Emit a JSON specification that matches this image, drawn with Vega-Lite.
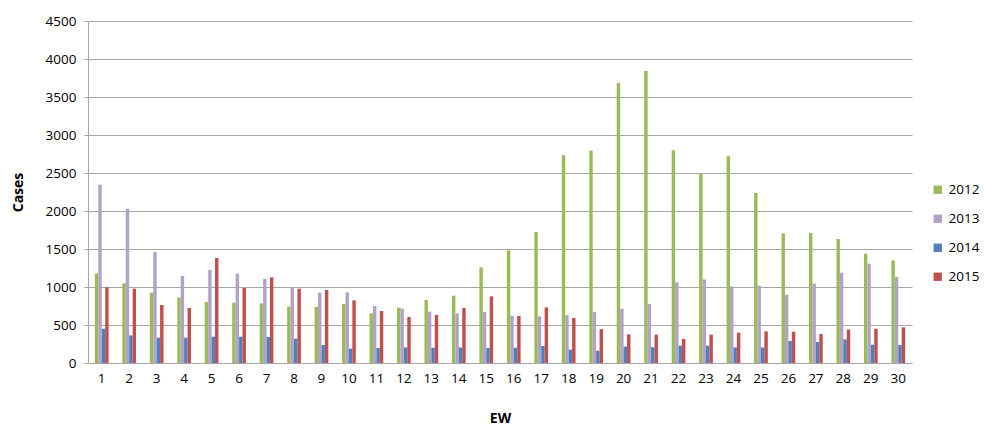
{
  "$schema": "https://vega.github.io/schema/vega-lite/v6.json",
  "width": 824,
  "height": 342,
  "autosize": "none",
  "padding": {"left": 88, "top": 21, "right": 73, "bottom": 65},
  "background": "white",
  "config": {
    "view": {"stroke": null},
    "font": "Open Sans"
  },
  "data": {
    "values": [
      {"ew": 1, "year": "2012", "cases": 1179}, {"ew": 1, "year": "2013", "cases": 2346}, {"ew": 1, "year": "2014", "cases": 451}, {"ew": 1, "year": "2015", "cases": 995},
      {"ew": 2, "year": "2012", "cases": 1048}, {"ew": 2, "year": "2013", "cases": 2031}, {"ew": 2, "year": "2014", "cases": 363}, {"ew": 2, "year": "2015", "cases": 978},
      {"ew": 3, "year": "2012", "cases": 925}, {"ew": 3, "year": "2013", "cases": 1461}, {"ew": 3, "year": "2014", "cases": 333}, {"ew": 3, "year": "2015", "cases": 763},
      {"ew": 4, "year": "2012", "cases": 863}, {"ew": 4, "year": "2013", "cases": 1145}, {"ew": 4, "year": "2014", "cases": 333}, {"ew": 4, "year": "2015", "cases": 724},
      {"ew": 5, "year": "2012", "cases": 803}, {"ew": 5, "year": "2013", "cases": 1224}, {"ew": 5, "year": "2014", "cases": 346}, {"ew": 5, "year": "2015", "cases": 1382},
      {"ew": 6, "year": "2012", "cases": 794}, {"ew": 6, "year": "2013", "cases": 1175}, {"ew": 6, "year": "2014", "cases": 346}, {"ew": 6, "year": "2015", "cases": 987},
      {"ew": 7, "year": "2012", "cases": 785}, {"ew": 7, "year": "2013", "cases": 1105}, {"ew": 7, "year": "2014", "cases": 343}, {"ew": 7, "year": "2015", "cases": 1127},
      {"ew": 8, "year": "2012", "cases": 741}, {"ew": 8, "year": "2013", "cases": 995}, {"ew": 8, "year": "2014", "cases": 320}, {"ew": 8, "year": "2015", "cases": 978},
      {"ew": 9, "year": "2012", "cases": 737}, {"ew": 9, "year": "2013", "cases": 925}, {"ew": 9, "year": "2014", "cases": 237}, {"ew": 9, "year": "2015", "cases": 961},
      {"ew": 10, "year": "2012", "cases": 776}, {"ew": 10, "year": "2013", "cases": 929}, {"ew": 10, "year": "2014", "cases": 188}, {"ew": 10, "year": "2015", "cases": 824},
      {"ew": 11, "year": "2012", "cases": 653}, {"ew": 11, "year": "2013", "cases": 750}, {"ew": 11, "year": "2014", "cases": 197}, {"ew": 11, "year": "2015", "cases": 684},
      {"ew": 12, "year": "2012", "cases": 728}, {"ew": 12, "year": "2013", "cases": 715}, {"ew": 12, "year": "2014", "cases": 205}, {"ew": 12, "year": "2015", "cases": 605},
      {"ew": 13, "year": "2012", "cases": 829}, {"ew": 13, "year": "2013", "cases": 675}, {"ew": 13, "year": "2014", "cases": 201}, {"ew": 13, "year": "2015", "cases": 632},
      {"ew": 14, "year": "2012", "cases": 886}, {"ew": 14, "year": "2013", "cases": 653}, {"ew": 14, "year": "2014", "cases": 205}, {"ew": 14, "year": "2015", "cases": 724},
      {"ew": 15, "year": "2012", "cases": 1258}, {"ew": 15, "year": "2013", "cases": 671}, {"ew": 15, "year": "2014", "cases": 197}, {"ew": 15, "year": "2015", "cases": 877},
      {"ew": 16, "year": "2012", "cases": 1482}, {"ew": 16, "year": "2013", "cases": 622}, {"ew": 16, "year": "2014", "cases": 201}, {"ew": 16, "year": "2015", "cases": 618},
      {"ew": 17, "year": "2012", "cases": 1724}, {"ew": 17, "year": "2013", "cases": 613}, {"ew": 17, "year": "2014", "cases": 224}, {"ew": 17, "year": "2015", "cases": 732},
      {"ew": 18, "year": "2012", "cases": 2732}, {"ew": 18, "year": "2013", "cases": 632}, {"ew": 18, "year": "2014", "cases": 175}, {"ew": 18, "year": "2015", "cases": 592},
      {"ew": 19, "year": "2012", "cases": 2794}, {"ew": 19, "year": "2013", "cases": 671}, {"ew": 19, "year": "2014", "cases": 162}, {"ew": 19, "year": "2015", "cases": 447},
      {"ew": 20, "year": "2012", "cases": 3685}, {"ew": 20, "year": "2013", "cases": 715}, {"ew": 20, "year": "2014", "cases": 215}, {"ew": 20, "year": "2015", "cases": 377},
      {"ew": 21, "year": "2012", "cases": 3843}, {"ew": 21, "year": "2013", "cases": 776}, {"ew": 21, "year": "2014", "cases": 208}, {"ew": 21, "year": "2015", "cases": 373},
      {"ew": 22, "year": "2012", "cases": 2798}, {"ew": 22, "year": "2013", "cases": 1061}, {"ew": 22, "year": "2014", "cases": 228}, {"ew": 22, "year": "2015", "cases": 316},
      {"ew": 23, "year": "2012", "cases": 2495}, {"ew": 23, "year": "2013", "cases": 1100}, {"ew": 23, "year": "2014", "cases": 228}, {"ew": 23, "year": "2015", "cases": 373},
      {"ew": 24, "year": "2012", "cases": 2719}, {"ew": 24, "year": "2013", "cases": 1008}, {"ew": 24, "year": "2014", "cases": 205}, {"ew": 24, "year": "2015", "cases": 399},
      {"ew": 25, "year": "2012", "cases": 2237}, {"ew": 25, "year": "2013", "cases": 1017}, {"ew": 25, "year": "2014", "cases": 205}, {"ew": 25, "year": "2015", "cases": 416},
      {"ew": 26, "year": "2012", "cases": 1706}, {"ew": 26, "year": "2013", "cases": 899}, {"ew": 26, "year": "2014", "cases": 290}, {"ew": 26, "year": "2015", "cases": 412},
      {"ew": 27, "year": "2012", "cases": 1711}, {"ew": 27, "year": "2013", "cases": 1044}, {"ew": 27, "year": "2014", "cases": 276}, {"ew": 27, "year": "2015", "cases": 382},
      {"ew": 28, "year": "2012", "cases": 1632}, {"ew": 28, "year": "2013", "cases": 1188}, {"ew": 28, "year": "2014", "cases": 311}, {"ew": 28, "year": "2015", "cases": 442},
      {"ew": 29, "year": "2012", "cases": 1438}, {"ew": 29, "year": "2013", "cases": 1307}, {"ew": 29, "year": "2014", "cases": 241}, {"ew": 29, "year": "2015", "cases": 451},
      {"ew": 30, "year": "2012", "cases": 1350}, {"ew": 30, "year": "2013", "cases": 1132}, {"ew": 30, "year": "2014", "cases": 237}, {"ew": 30, "year": "2015", "cases": 469}
    ]
  },
  "mark": {"type": "bar"},
  "encoding": {
    "x": {
      "field": "ew",
      "type": "ordinal",
      "scale": {"paddingInner": 0.5, "paddingOuter": 0.25},
      "axis": {
        "title": "EW",
        "titleFont": "Open Sans",
        "titleFontSize": 14,
        "titleFontWeight": "bold",
        "titleColor": "#000000",
        "titlePadding": 27,
        "labelAngle": 0,
        "labelFontSize": 13.5,
        "labelColor": "#000000",
        "labelPadding": 8,
        "ticks": false,
        "domainColor": "#a6a6a6",
        "grid": false
      }
    },
    "xOffset": {"field": "year", "type": "nominal", "scale": {"paddingInner": 0}},
    "y": {
      "field": "cases",
      "type": "quantitative",
      "scale": {"domain": [0, 4500]},
      "axis": {
        "title": "Cases",
        "values": [0, 500, 1000, 1500, 2000, 2500, 3000, 3500, 4000, 4500],
        "titleFont": "Open Sans",
        "titleFontSize": 14,
        "titleFontWeight": "bold",
        "titleColor": "#000000",
        "titlePadding": 20,
        "labelFontSize": 13.5,
        "labelColor": "#000000",
        "labelPadding": 8,
        "ticks": true,
        "tickSize": 4,
        "tickColor": "#a6a6a6",
        "domainColor": "#a6a6a6",
        "gridColor": "#a6a6a6",
        "gridWidth": 1,
        "format": "d"
      }
    },
    "color": {
      "field": "year",
      "type": "nominal",
      "scale": {
        "domain": ["2012", "2013", "2014", "2015"],
        "range": ["#9BBB59", "#B3A2C7", "#4F81BD", "#C0504D"]
      },
      "legend": {
        "title": null,
        "orient": "none",
        "legendX": 843,
        "legendY": 162,
        "symbolType": "square",
        "symbolSize": 70,
        "symbolStrokeWidth": 0,
        "labelFontSize": 13.5,
        "labelColor": "#000000",
        "rowPadding": 14
      }
    }
  }
}
